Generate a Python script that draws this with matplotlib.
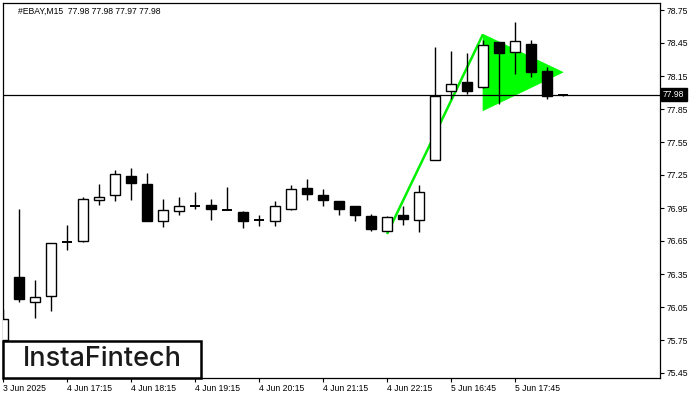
import matplotlib
matplotlib.use("Agg")
import matplotlib.pyplot as plt
from matplotlib.patches import Rectangle, Polygon
from matplotlib.transforms import blended_transform_factory

# ---- data ----
opens  = [75.75, 76.32, 76.10, 76.15, 76.65, 76.65, 77.02, 77.07, 77.24, 77.17,
          76.83, 76.92, 76.97, 76.98, 76.94, 76.91, 76.84, 76.83, 76.94, 77.13,
          77.07, 77.01, 76.97, 76.88, 76.74, 76.89, 76.84, 77.39, 78.01, 78.10,
          78.05, 78.46, 78.365, 78.44, 78.20, 77.98]
highs  = [76.03, 76.94, 76.30, 76.63, 76.80, 77.05, 77.17, 77.30, 77.31, 77.27,
          77.03, 77.05, 77.10, 77.03, 77.14, 76.92, 76.89, 77.01, 77.16, 77.21,
          77.12, 77.01, 76.97, 76.90, 76.88, 76.97, 77.16, 78.41, 78.38, 78.36,
          78.48, 78.46, 78.64, 78.48, 78.23, 77.98]
lows   = [75.70, 76.10, 75.95, 76.01, 76.57, 76.64, 76.98, 77.01, 77.02, 76.83,
          76.78, 76.89, 76.94, 76.84, 76.93, 76.77, 76.79, 76.79, 76.93, 77.02,
          76.97, 76.89, 76.83, 76.74, 76.74, 76.80, 76.73, 77.39, 77.94, 77.99,
          78.04, 77.90, 78.17, 78.14, 77.94, 77.97]
closes = [75.94, 76.125, 76.14, 76.63, 76.64, 77.03, 77.05, 77.26, 77.18, 76.83,
          76.93, 76.97, 76.96, 76.94, 76.93, 76.83, 76.84, 76.97, 77.12, 77.08,
          77.02, 76.94, 76.89, 76.76, 76.87, 76.85, 77.10, 77.965, 78.08, 78.01,
          78.43, 78.36, 78.465, 78.19, 77.97, 77.98]

pole_idx = [24, 30]
pole_price = [76.714, 78.529]
flag_idx = [30, 30, 35]
flag_price = [78.529, 77.835, 78.184]

ytick_vals = [78.75, 78.45, 78.15, 77.85, 77.55, 77.25, 76.95, 76.65, 76.35, 76.05, 75.75, 75.45]
xtick_idx = [0, 4, 8, 12, 16, 20, 24, 28, 32]
xtick_labels = ["3 Jun 2025", "4 Jun 17:15", "4 Jun 18:15", "4 Jun 19:15", "4 Jun 20:15",
                "4 Jun 21:15", "4 Jun 22:15", "5 Jun 16:45", "5 Jun 17:45"]
current_price = 77.98
title = "#EBAY,M15  77.98 77.98 77.97 77.98"

# ---- figure ----
W, H = 700, 400
fig = plt.figure(figsize=(7, 4), dpi=100)
ax = fig.add_axes([3 / W, (H - 378) / H, 657 / W, 375 / H])
ax.set_xlim(0, 657 / 16)
ax.set_ylim(78.75 - 368 / 110, 78.75 + 7 / 110)

font = "Liberation Sans"

# flag triangle (behind candles)
ax.add_patch(Polygon(list(zip(flag_idx, flag_price)), closed=True,
                     facecolor="#00ff00", edgecolor="#00ff00", lw=0.5, zorder=1))
ax.plot(pole_idx, pole_price, color="#00f000", lw=1.8, zorder=1.5, solid_capstyle="butt")

ax.axhline(current_price, color="black", lw=0.9, zorder=2)

bw = 0.62
for i, (o, h, l, c) in enumerate(zip(opens, highs, lows, closes)):
    ax.vlines(i, l, h, color="black", lw=1.0, zorder=3)
    bottom = min(o, c)
    height = abs(c - o)
    fc = "white" if c > o else "black"
    if height < 0.012:
        ax.hlines((o + c) / 2, i - bw / 2, i + bw / 2, color="black", lw=1.4, zorder=4)
    else:
        ax.add_patch(Rectangle((i - bw / 2, bottom), bw, height, facecolor=fc,
                               edgecolor="black", lw=1.0, zorder=4))

# axes styling
for s in ax.spines.values():
    s.set_linewidth(0.9)
    s.set_color("black")
ax.yaxis.tick_right()
ax.set_yticks(ytick_vals)
ax.set_yticklabels([f"{v:.2f}" for v in ytick_vals], fontsize=6.2, family=font)
ax.set_xticks(xtick_idx)
ax.set_xticklabels(xtick_labels, fontsize=6.2, family=font)
for lab in ax.get_xticklabels():
    lab.set_ha("left")
ax.tick_params(axis="both", length=3, width=0.8, pad=1.5, colors="black")

# current price label
trans = blended_transform_factory(ax.transAxes, ax.transData)
ax.text(1.0 + 3 / 657, current_price, f"{current_price:.2f}", transform=trans,
        fontsize=6.2, family=font, color="white", va="center", ha="left",
        bbox=dict(boxstyle="square,pad=0.25", facecolor="black", edgecolor="black"),
        zorder=10, clip_on=False)

# title
fig.text(18 / W, 1 - 11 / H, title, fontsize=6.2, family=font, va="center", ha="left")

# logo
logo = Rectangle((3 / W, (H - 378) / H), 198 / W, 37 / H, transform=fig.transFigure,
                 facecolor="white", edgecolor="black", lw=1.8, zorder=5)
fig.add_artist(logo)
fig.text(102 / W, (H - 359.5) / H, "InstaFintech", fontsize=19.5, family="Inter",
         weight="medium", color="#1a1a1a", ha="center", va="center", zorder=6)

fig.savefig("out.png", dpi=100)
